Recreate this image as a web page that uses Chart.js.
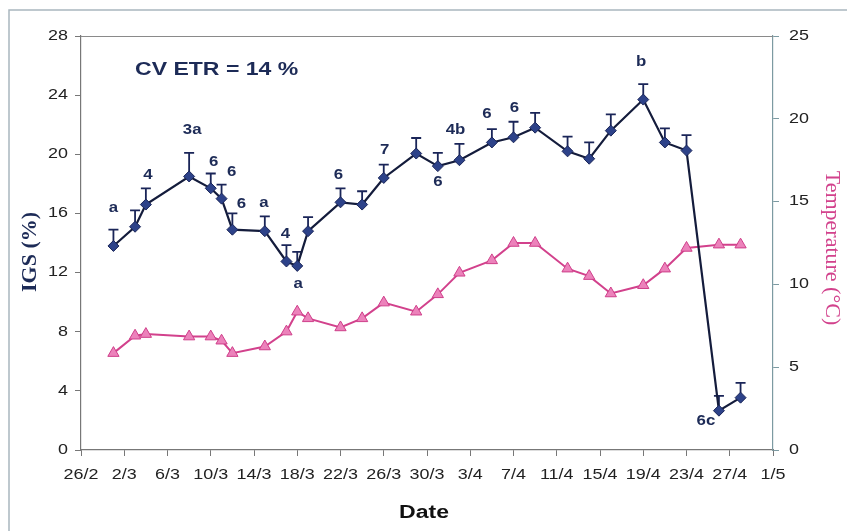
<!DOCTYPE html>
<html>
<head>
<meta charset="utf-8">
<script src="https://cdn.jsdelivr.net/npm/chart.js@4.4.0/dist/chart.umd.min.js"></script>
<style>
  body { margin: 0; background: #fff; }
  #wrap { position: relative; width: 847px; height: 531px; }
</style>
</head>
<body>
<div id="wrap"><canvas id="myChart" width="847" height="531"></canvas></div>
<script>
// sampling dates (day/month)
const sampleDates = ['1/3', '3/3', '4/3', '8/3', '10/3', '11/3', '12/3', '15/3', '17/3', '18/3',
    '19/3', '22/3', '24/3', '26/3', '29/3', '31/3', '2/4', '5/4', '7/4', '9/4',
    '12/4', '14/4', '16/4', '19/4', '21/4', '23/4', '26/4', '28/4'];

// IGS (%) and its standard error
const igsValues = [13.8, 15.1, 16.6, 18.5, 17.7, 17.0, 14.9, 14.8, 12.75, 12.45,
    14.8, 16.75, 16.6, 18.4, 20.05, 19.2, 19.6, 20.8, 21.15, 21.8,
    20.2, 19.7, 21.6, 23.7, 20.8, 20.25, 2.66, 3.54];
const igsErrors = [1.1, 1.1, 1.1, 1.6, 1.0, 0.95, 1.1, 1.0, 1.1, 0.95,
    0.95, 0.95, 0.9, 0.9, 1.05, 0.9, 1.1, 0.9, 1.05, 1.0,
    1.0, 1.1, 1.1, 1.05, 0.95, 1.05, 1.0, 1.0];

// water temperature (°C)
const tempValues = [5.85, 6.9, 7.0, 6.85, 6.85, 6.6, 5.85, 6.25, 7.15, 8.35,
    7.95, 7.4, 7.95, 8.9, 8.35, 9.4, 10.7, 11.45, 12.5, 12.5,
    10.95, 10.5, 9.45, 9.95, 10.95, 12.2, 12.4, 12.4];

// x axis tick labels, every 4 days from 26/2
const tickLabels = ['26/2', '2/3', '6/3', '10/3', '14/3', '18/3', '22/3', '26/3', '30/3',
    '3/4', '7/4', '11/4', '15/4', '19/4', '23/4', '27/4', '1/5'];

// significance letters: [point index, text]
const pointNotes = [[0, 'a'], [2, '4'], [3, '3a'], [4, '6'], [5, '6'], [6, '6'], [7, 'a'],
    [8, '4'], [9, 'a'], [11, '6'], [13, '7'], [15, '6'], [16, '4b'], [17, '6'],
    [18, '6'], [23, 'b'], [26, '6c']];

// where each note sits relative to its point (px)
const noteOffsets = {
    0: [0, -38], 2: [2, -29], 3: [3, -46], 4: [3, -26], 5: [10, -27], 6: [9, -26],
    7: [-1, -28], 8: [-1, -27], 9: [1, 18], 11: [-2, -27], 13: [1, -28], 15: [0, 16],
    16: [-4, -30], 17: [-5, -28], 18: [1, -29], 23: [-2, -37], 26: [-13, 10]
};

// days since 26/2
function dayNumber(str) {
    const [d, m] = str.split('/').map(Number);
    return (Date.UTC(2001, m - 1, d) - Date.UTC(2001, 1, 26)) / 86400000;
}

const days = sampleDates.map(dayNumber);
const igsData = days.map((x, i) => ({ x: x, y: igsValues[i] }));
const tempData = days.map((x, i) => ({ x: x, y: tempValues[i] }));

const navy = '#1d2b57';
const pink = '#d2418c';
const sans = '"Liberation Sans", Arial, sans-serif';
const serif = '"Liberation Serif", "Times New Roman", serif';

// the original figure is a little wider than tall, so text is stretched
function stretchText(ctx, txt, x, y, font, color, align, sx) {
    ctx.save();
    ctx.translate(x, y);
    ctx.scale(sx, 1);
    ctx.font = font;
    ctx.fillStyle = color;
    ctx.textAlign = align;
    ctx.textBaseline = 'middle';
    ctx.fillText(txt, 0, 0);
    ctx.restore();
}

const extrasPlugin = {
    id: 'extras',
    beforeDatasetsDraw(chart) {
        const ctx = chart.ctx;
        const xs = chart.scales.x, ys = chart.scales.y;
        const area = chart.chartArea;
        ctx.save();
        // outer frame
        ctx.strokeStyle = '#a9b6bf';
        ctx.lineWidth = 1.5;
        ctx.beginPath();
        ctx.moveTo(9, 531);
        ctx.lineTo(9, 10);
        ctx.lineTo(847, 10);
        ctx.stroke();
        // top border of plot area
        ctx.strokeStyle = '#8a8a8a';
        ctx.lineWidth = 1;
        ctx.beginPath();
        ctx.moveTo(area.left, area.top + 0.5);
        ctx.lineTo(area.right, area.top + 0.5);
        ctx.stroke();
        // error bars (upper only)
        ctx.strokeStyle = '#1a2558';
        ctx.lineWidth = 1.8;
        igsValues.forEach((v, i) => {
            const px = xs.getPixelForValue(days[i]);
            const py = ys.getPixelForValue(v);
            const pt = ys.getPixelForValue(v + igsErrors[i]);
            ctx.beginPath();
            ctx.moveTo(px, py);
            ctx.lineTo(px, pt);
            ctx.moveTo(px - 5, pt);
            ctx.lineTo(px + 5, pt);
            ctx.stroke();
        });
        ctx.restore();
    },
    afterDatasetsDraw(chart) {
        const ctx = chart.ctx;
        const xs = chart.scales.x, ys = chart.scales.y, ys1 = chart.scales.y1;
        const tickFont = '14px ' + sans;

        // tick labels, placed on the library's own ticks
        xs.ticks.forEach((t, i) => {
            stretchText(ctx, tickLabels[Math.round(t.value / 4)], xs.getPixelForTick(i), 475, tickFont, '#222', 'center', 1.28);
        });
        ys.ticks.forEach((t, i) => {
            stretchText(ctx, String(t.value), 68, ys.getPixelForTick(i), tickFont, '#222', 'right', 1.28);
        });
        ys1.ticks.forEach((t, i) => {
            stretchText(ctx, String(t.value), 789, ys1.getPixelForTick(i), tickFont, '#222', 'left', 1.28);
        });

        // significance letters
        pointNotes.forEach(([i, txt]) => {
            const off = noteOffsets[i];
            stretchText(ctx, txt, xs.getPixelForValue(days[i]) + off[0], ys.getPixelForValue(igsValues[i]) + off[1],
                'bold 14px ' + sans, navy, 'center', 1.2);
        });

        // inner caption
        stretchText(ctx, 'CV ETR = 14 %', 135, 70, 'bold 18px ' + sans, navy, 'left', 1.28);
        // axis titles
        stretchText(ctx, 'Date', 424, 513, 'bold 18px ' + sans, '#111', 'center', 1.28);

        ctx.save();
        ctx.translate(30, 252);
        ctx.rotate(-Math.PI / 2);
        stretchText(ctx, 'IGS (%)', 0, 0, 'bold 22px ' + serif, navy, 'center', 1);
        ctx.restore();

        ctx.save();
        ctx.translate(832, 248);
        ctx.rotate(Math.PI / 2);
        stretchText(ctx, 'Temperature (°C)', 0, 0, '22px ' + serif, pink, 'center', 1);
        ctx.restore();
    }
};

new Chart(document.getElementById('myChart').getContext('2d'), {
    type: 'line',
    data: {
        datasets: [
            {
                label: 'IGS',
                data: igsData,
                yAxisID: 'y',
                borderColor: '#141c3c',
                borderWidth: 2.2,
                pointStyle: 'rectRot',
                pointRadius: 5.5,
                pointBackgroundColor: '#2d4289',
                pointBorderColor: '#1a2558',
                pointBorderWidth: 1,
                tension: 0
            },
            {
                label: 'Temperature',
                data: tempData,
                yAxisID: 'y1',
                borderColor: pink,
                borderWidth: 2,
                pointStyle: 'triangle',
                pointRadius: 6.5,
                pointBackgroundColor: '#ec82bb',
                pointBorderColor: '#cf3f8a',
                pointBorderWidth: 1,
                tension: 0
            }
        ]
    },
    options: {
        responsive: false,
        animation: false,
        devicePixelRatio: 1,
        layout: { padding: { top: 36, left: 0, right: 0, bottom: 0 } },
        plugins: {
            legend: { display: false },
            tooltip: { enabled: false }
        },
        scales: {
            x: {
                type: 'linear',
                min: 0,
                max: 64,
                afterFit: (s) => { s.height = 81; },
                ticks: { display: false, stepSize: 4, autoSkip: false, maxRotation: 0 },
                grid: { display: true, drawOnChartArea: false, drawTicks: true, tickLength: 6, color: '#777' },
                border: { color: '#777', width: 1.2 }
            },
            y: {
                position: 'left',
                min: 0,
                max: 28,
                afterFit: (s) => { s.width = 81; },
                ticks: { display: false, stepSize: 4 },
                grid: { display: true, drawOnChartArea: false, drawTicks: true, tickLength: 6, color: '#777' },
                border: { color: '#777', width: 1.2 }
            },
            y1: {
                position: 'right',
                min: 0,
                max: 25,
                afterFit: (s) => { s.width = 74; },
                ticks: { display: false, stepSize: 5 },
                grid: { display: true, drawOnChartArea: false, drawTicks: true, tickLength: 6, color: '#7c9aa2' },
                border: { color: '#7c9aa2', width: 1.2 }
            }
        }
    },
    plugins: [extrasPlugin]
});
</script>
</body>
</html>
